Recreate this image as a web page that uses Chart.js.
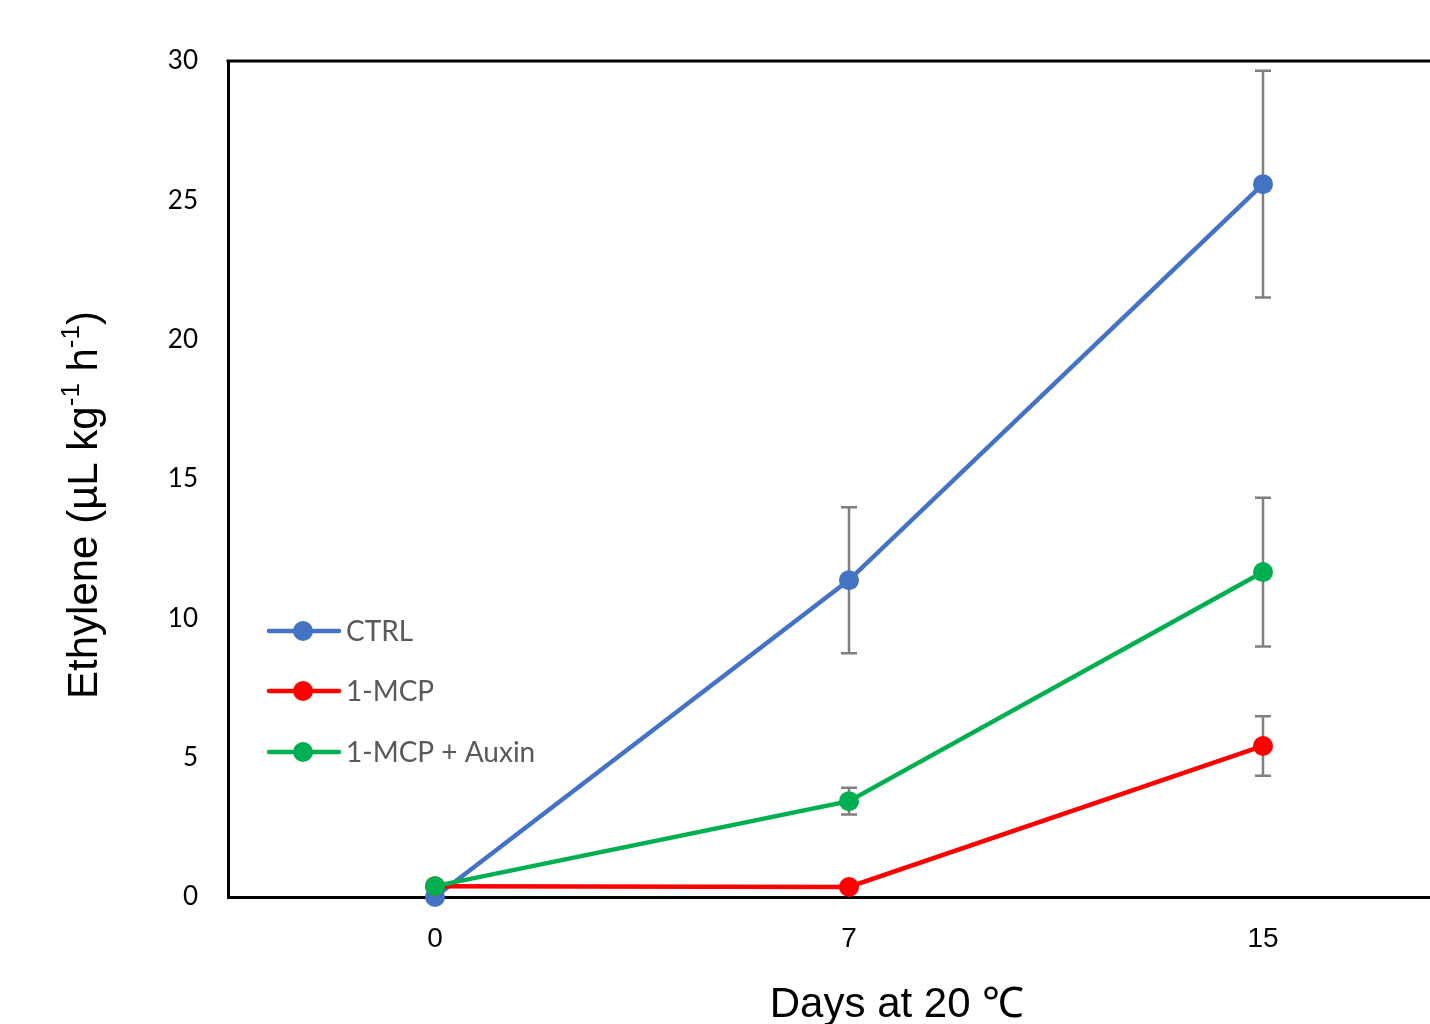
<!DOCTYPE html>
<html>
<head>
<meta charset="utf-8">
<script src="https://cdn.jsdelivr.net/npm/chart.js@4.4.1/dist/chart.umd.min.js"></script>
<style>
  html, body { margin: 0; padding: 0; background: #fff; overflow: hidden; }
  #wrap { width: 1430px; height: 1024px; overflow: hidden; }
</style>
</head>
<body>
<div id="wrap"><canvas id="c" width="1480" height="1024"></canvas></div>
<script>
const days = ["0", "7", "15"];
const yTicks = [0, 5, 10, 15, 20, 25, 30];

const ctrl = [0, 11.37, 25.58];
const ctrlErr = [0, 2.62, 4.07];
const mcp = [0.39, 0.36, 5.42];
const mcpErr = [0, 0, 1.07];
const auxin = [0.39, 3.44, 11.66];
const auxinErr = [0, 0.48, 2.67];

const seriesNames = ["CTRL", "1-MCP", "1-MCP + Auxin"];
const colors = ["#4472C4", "#FF0000", "#00B050"];

// ---------- error bars, drawn under the lines ----------
const errorBars = {
  id: "errorBars",
  beforeDatasetsDraw(chart) {
    const { ctx, scales: { x, y } } = chart;
    const errs = [ctrlErr, mcpErr, auxinErr];
    ctx.save();
    ctx.strokeStyle = "#7F7F7F";
    ctx.lineWidth = 2.5;
    chart.data.datasets.forEach((ds, i) => {
      ds.data.forEach((v, j) => {
        const e = errs[i][j];
        if (!e) return;
        const px = x.getPixelForValue(j);
        const top = y.getPixelForValue(v + e);
        const bot = y.getPixelForValue(v - e);
        ctx.beginPath();
        ctx.moveTo(px, top); ctx.lineTo(px, bot);
        ctx.moveTo(px - 8, top); ctx.lineTo(px + 8, top);
        ctx.moveTo(px - 8, bot); ctx.lineTo(px + 8, bot);
        ctx.stroke();
      });
    });
    ctx.restore();
  },
};

// ---------- frame top, axis titles, legend ----------
const decorations = {
  id: "decorations",
  afterDraw(chart) {
    const { ctx, chartArea: a } = chart;
    ctx.save();

    // top border of frame
    ctx.strokeStyle = "#000";
    ctx.lineWidth = 3;
    ctx.beginPath();
    ctx.moveTo(a.left - 1.5, a.top);
    ctx.lineTo(a.right, a.top);
    ctx.stroke();

    // x title
    ctx.fillStyle = "#000";
    ctx.font = '42px "Liberation Sans", Arial, sans-serif';
    ctx.textAlign = "center";
    ctx.textBaseline = "middle";
    ctx.fillText("Days at 20 \u2103", 897, 1005);

    // y title with superscripts
    const parts = [
      ["Ethylene (\u00B5L kg", false],
      ["-1", true],
      [" h", false],
      ["-1", true],
      [")", false],
    ];
    const big = '42px "Liberation Sans", Arial, sans-serif';
    const small = '26px "Liberation Sans", Arial, sans-serif';
    let total = 0;
    parts.forEach(([t, sup]) => {
      ctx.font = sup ? small : big;
      total += ctx.measureText(t).width;
    });
    ctx.translate(82, 505);
    ctx.rotate(-Math.PI / 2);
    ctx.textAlign = "left";
    ctx.textBaseline = "alphabetic";
    let cx = -total / 2;
    parts.forEach(([t, sup]) => {
      ctx.font = sup ? small : big;
      ctx.fillText(t, cx, sup ? -3 : 15);
      cx += ctx.measureText(t).width;
    });
    ctx.setTransform(1, 0, 0, 1, 0, 0);

    // legend
    const rows = [631, 691, 752];
    ctx.font = '28px Lato, "Open Sans", sans-serif';
    ctx.textAlign = "left";
    ctx.textBaseline = "middle";
    seriesNames.forEach((name, i) => {
      const yy = rows[i];
      ctx.strokeStyle = colors[i];
      ctx.lineWidth = 4.5;
      ctx.lineCap = "round";
      ctx.beginPath();
      ctx.moveTo(269, yy); ctx.lineTo(339, yy);
      ctx.stroke();
      ctx.fillStyle = colors[i];
      ctx.beginPath();
      ctx.arc(303, yy, 10, 0, Math.PI * 2);
      ctx.fill();
      ctx.fillStyle = "#595959";
      ctx.fillText(name, 346, yy + 1);
    });
    ctx.restore();
  },
};

const makeSet = (label, data, color, order) => ({
  label,
  data,
  order,
  borderColor: color,
  backgroundColor: color,
  borderWidth: 4.5,
  pointRadius: 10,
  pointHoverRadius: 10,
  pointBorderWidth: 0,
  tension: 0,
  clip: false,
});

new Chart(document.getElementById("c"), {
  type: "line",
  data: {
    labels: days,
    datasets: [
      makeSet(seriesNames[0], ctrl, colors[0], 2),
      makeSet(seriesNames[1], mcp, colors[1], 1),
      makeSet(seriesNames[2], auxin, colors[2], 0),
    ],
  },
  options: {
    responsive: false,
    animation: false,
    devicePixelRatio: 1,
    layout: { padding: { left: 0, top: 61, right: 8, bottom: 0 } },
    plugins: { legend: { display: false }, tooltip: { enabled: false } },
    scales: {
      x: {
        type: "category",
        offset: true,
        grid: { display: false, drawTicks: false },
        border: { display: true, color: "#000", width: 3 },
        ticks: {
          color: "#000",
          padding: 25,
          font: { family: '"Liberation Sans", Arial, sans-serif', size: 28 },
        },
        afterFit(scale) { scale.height = 127; },
      },
      y: {
        min: 0,
        max: 30,
        afterBuildTicks(scale) { scale.ticks = yTicks.map((v) => ({ value: v })); },
        grid: { display: false, drawTicks: false },
        border: { display: true, color: "#000", width: 3 },
        ticks: {
          color: "#000",
          padding: 30,
          font: { family: 'Lato, "Open Sans", sans-serif', size: 26 },
        },
        afterFit(scale) { scale.width = 228; },
      },
    },
  },
  plugins: [errorBars, decorations],
});
</script>
</body>
</html>
